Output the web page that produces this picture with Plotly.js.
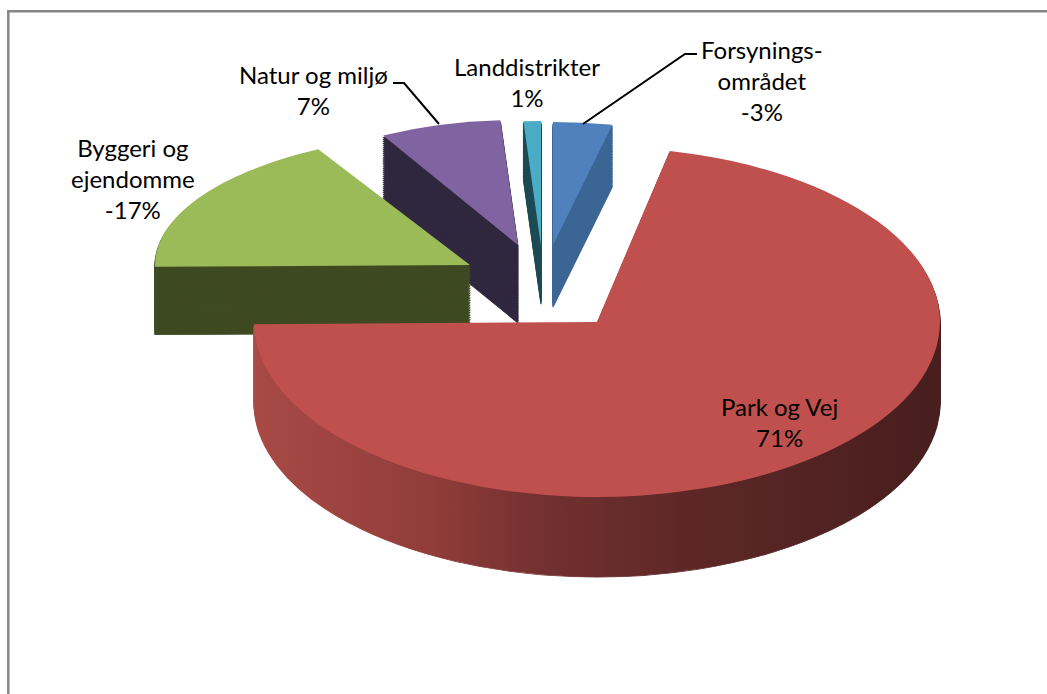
<!DOCTYPE html>
<html>
<head>
<meta charset="utf-8">
<script src="https://cdn.plot.ly/plotly-3.0.1.min.js"></script>
<style>
html,body{margin:0;padding:0;background:#ffffff;overflow:hidden;}
#chart{width:1047px;height:694px;}
</style>
</head>
<body>
<div id="chart"></div>
<script>
// ---- data ----
const categories = ["Forsyningsområdet", "Park og Vej", "Byggeri og ejendomme", "Natur og miljø", "Landdistrikter"];
const shares = [-3.4, 71.4, -17.2, 7.0, 1.0];   // signed share (%), slice size = |share|
const labelLines = ["Forsynings-<br>området", "Park og Vej", "Byggeri og<br>ejendomme", "Natur og miljø", "Landdistrikter"];

// ---- styles / layout helpers ----
const W = 1047, H = 694;
const topColors  = ["#4F81BD", "#C0504D", "#9BBB59", "#8064A2", "#4BACC6"];
const sideColors = ["#3C6694", "#7A3331", "#3F4A22", "#30283F", "#1F4B55"];
// 3D projection per slice: apex position (px), horizontal / vertical radius, extrusion depth
const sliceGeom = [
  {x: 553, y: 245, a: 280, b: 123, d: 62},
  {x: 597, y: 322, a: 343, b: 175, d: 80},
  {x: 470, y: 265, a: 315, b: 132, d: 68},
  {x: 518, y: 245, a: 280, b: 125, d: 78},
  {x: 541, y: 246, a: 280, b: 125, d: 58}
];
const labelPos = [[762, 80], [779, 422], [133, 179], [313, 90], [527, 82]];
const NLAYERS = 40;

const px = (x) => x / W;
const py = (y) => 1 - y / H;
const pathPx = (pts) => pts.map((p, i) => (i ? 'L' : 'M') + px(p[0]).toFixed(5) + ',' + py(p[1]).toFixed(5)).join(' ');

const sizes = shares.map(Math.abs);

function pieTrace(colors, lineColors, lineWidth) {
  return {
    type: 'pie',
    labels: categories,
    values: sizes,
    sort: false,
    direction: 'clockwise',
    rotation: 0,
    textinfo: 'none',
    hoverinfo: 'skip',
    showlegend: false,
    domain: {x: [0, 1], y: [0, 1]},
    marker: {colors: colors, line: {color: lineColors, width: lineWidth}}
  };
}

const traces = [];
for (let k = 0; k < NLAYERS; k++) traces.push(pieTrace(sideColors, sideColors, 1.5));
traces.push(pieTrace(topColors, topColors, 0));

const annotations = categories.map((c, i) => ({
  xref: 'paper', yref: 'paper',
  x: px(labelPos[i][0]), y: py(labelPos[i][1]),
  xanchor: 'center', yanchor: 'middle', align: 'center',
  showarrow: false,
  text: labelLines[i] + '<br>' + Math.round(shares[i]) + '%',
  font: {family: 'Lato, "Open Sans", sans-serif', size: 24, color: '#000000'}
}));

const shapes = [
  {type: 'rect', xref: 'paper', yref: 'paper', x0: px(8.3), y0: py(11.2), x1: px(1060), y1: py(710),
   line: {color: '#878787', width: 2.5}, fillcolor: 'rgba(0,0,0,0)'},
  {type: 'path', xref: 'paper', yref: 'paper', path: pathPx([[393, 83], [404, 83], [439, 124]]),
   line: {color: '#000000', width: 2}},
  {type: 'path', xref: 'paper', yref: 'paper', path: pathPx([[697, 54], [685, 54], [583, 124]]),
   line: {color: '#000000', width: 2}}
];

const layout = {
  width: W, height: H,
  margin: {l: 0, r: 0, t: 0, b: 0},
  paper_bgcolor: '#ffffff', plot_bgcolor: '#ffffff',
  showlegend: false,
  annotations: annotations,
  shapes: shapes
};

const gd = document.getElementById('chart');
Plotly.newPlot(gd, traces, layout, {staticPlot: true, displayModeBar: false}).then(function () {
  let r = Math.min(W, H) / 2, cx = W / 2, cy = H / 2;
  try {
    const c0 = gd.calcdata[0][0];
    if (c0 && c0.r) { r = c0.r; cx = c0.cx; cy = c0.cy; }
  } catch (e) {}

  // gradient for the curved side of the large slice
  const ns = 'http://www.w3.org/2000/svg';
  const svg = gd.querySelector('svg.main-svg');
  const defs = document.createElementNS(ns, 'defs');
  const lg = document.createElementNS(ns, 'linearGradient');
  lg.setAttribute('id', 'redSide');
  lg.setAttribute('x1', '0'); lg.setAttribute('y1', '0');
  lg.setAttribute('x2', '1'); lg.setAttribute('y2', '0');
  [[0, '#A84A46'], [0.25, '#923D3A'], [0.42, '#733030'], [0.62, '#5F2828'], [0.82, '#522222'], [1, '#481E1E']].forEach(function (s) {
    const st = document.createElementNS(ns, 'stop');
    st.setAttribute('offset', s[0]);
    st.setAttribute('stop-color', s[1]);
    lg.appendChild(st);
  });
  defs.appendChild(lg);
  svg.insertBefore(defs, svg.firstChild);

  const groups = gd.querySelectorAll('.pielayer .trace');
  groups.forEach(function (g, t) {
    const frac = t < NLAYERS ? (NLAYERS - t) / NLAYERS : 0;
    g.querySelectorAll('g.slice').forEach(function (s, idx) {
      const pt = s.__data__;
      const i = (pt && typeof pt.i === 'number') ? pt.i : idx;
      const G = sliceGeom[i];
      const A = G.a / r, B = G.b / r;
      const e = G.x - A * cx;
      const f = G.y + frac * G.d - B * cy;
      s.setAttribute('transform', 'matrix(' + A + ' 0 0 ' + B + ' ' + e + ' ' + f + ')');
      if (t < NLAYERS && i === 1) {
        const p = s.querySelector('path.surface');
        if (p) { p.style.fill = 'url(#redSide)'; p.style.stroke = 'url(#redSide)'; }
      }
    });
  });
});
</script>
</body>
</html>
